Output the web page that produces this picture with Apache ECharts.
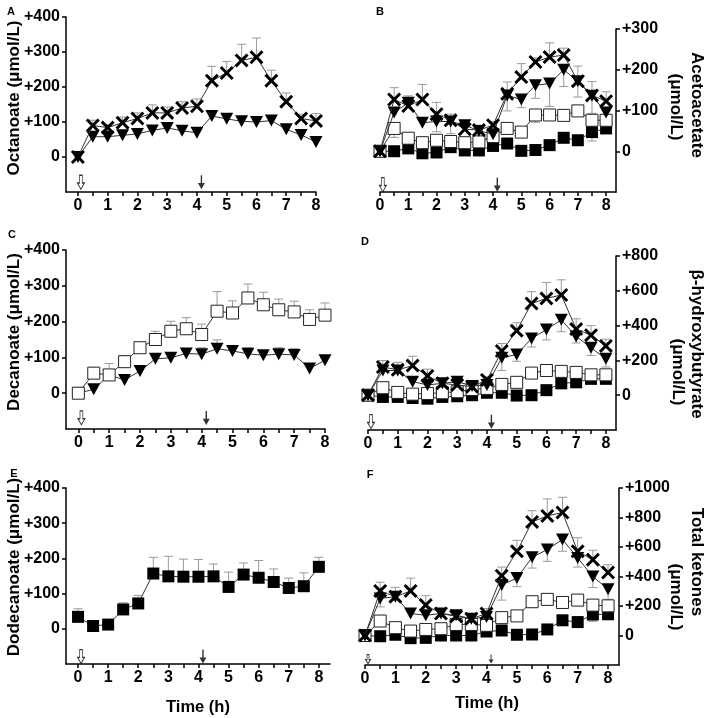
<!DOCTYPE html>
<html>
<head>
<meta charset="utf-8">
<script src="https://cdn.jsdelivr.net/npm/echarts@6/dist/echarts.min.js"></script>
<style>
html,body{margin:0;padding:0;background:#fff;}
#chart{width:708px;height:718px;}
</style>
</head>
<body>
<div id="chart"></div>
<script>
// ---------- data ----------
const times = [0,0.5,1,1.5,2,2.5,3,3.5,4,4.5,5,5.5,6,6.5,7,7.5,8];
const xTickValues = [0,0.5,1,1.5,2,2.5,3,3.5,4,4.5,5,5.5,6,6.5,7,7.5,8];
const xLabelValues = [0,1,2,3,4,5,6,7,8];
const arrowTimes = [0.1, 4.15]; // open arrow (start), filled arrow (second dose)

// A: Octanoate
const octanoate_C8 = [0,90,84,98,110,126,126,140,145,218,240,276,285,218,158,110,103];
const octanoate_C8_errTop = [null,105,93,114,126,149,143,158,166,259,273,322,340,248,183,122,124];
const octanoate_MIX = [0,58,58,62,66,76,83,75,69,117,109,102,100,104,79,63,43];
const octanoate_MIX_errTop = [null,66,null,null,null,84,88,null,null,133,null,null,null,116,null,null,null];

// C: Decanoate
const decanoate_C10 = [0,56,51,88,127,150,173,180,164,229,224,266,247,233,227,206,218];
const decanoate_C10_errTop = [null,67,83,104,141,173,201,211,193,284,258,305,282,263,257,233,252];
const decanoate_MIX = [0,11,51,37,62,96,99,111,109,124,118,110,106,109,107,69,92];
const decanoate_MIX_errTop = [null,null,null,null,null,104,108,122,127,149,133,127,118,127,125,null,100];

// E: Dodecanoate
const dodecanoate_C12 = [34,8,12,55,72,157,149,148,148,149,119,154,145,133,116,121,176];
const dodecanoate_C12_errTop = [57,null,null,74,95,203,206,198,197,184,161,187,194,170,144,159,203];

// B: Acetoacetate
const aceto_C8 = [0,127,111,127,91,76,54,52,64,141,182,219,231,236,172,137,123];
const aceto_C8_errTop = [null,156,136,164,120,91,70,64,73,170,215,229,266,253,209,171,146];
const aceto_MIX = [0,95,119,70,73,73,64,50,42,137,127,162,166,200,172,136,95];
const aceto_MIX_errBot = [null,null,null,null,48,43,null,null,null,99,107,130,110,159,133,93,null];
const aceto_C10 = [0,56,32,21,27,24,21,23,36,56,47,89,89,88,99,76,76];
const aceto_C10_errBot = [null,34,null,null,null,null,null,null,null,null,null,71,null,null,null,null,null];
const aceto_C12 = [0,0,7,-5,-3,10,2,2,13,19,1,3,15,33,27,47,56];
const aceto_C12_errBot = [null,null,null,null,null,null,null,null,null,null,null,null,null,null,null,25,null];

// D: beta-hydroxybutyrate
const bhb_C8 = [0,162,146,170,111,68,59,49,88,254,371,527,556,576,380,345,283];
const bhb_C8_errTop = [null,199,189,224,150,84,78,68,107,297,416,595,648,663,439,400,322];
const bhb_MIX = [0,142,142,78,59,68,78,53,59,215,234,326,377,433,338,273,209];
const bhb_MIX_errBot = [null,null,null,null,null,null,null,null,null,142,195,277,318,365,300,228,162];
const bhb_C10 = [0,43,16,6,10,14,20,33,39,62,74,127,142,137,131,117,117];
const bhb_C12 = [0,-10,-10,-16,-20,-10,-6,0,14,14,-2,0,29,68,74,94,94];

// F: Total ketones
const total_C8 = [0,302,263,302,206,149,130,114,149,405,571,770,811,834,571,514,427];
const total_C8_errTop = [null,361,327,389,270,183,160,130,183,464,645,846,926,937,663,578,480];
const total_MIX = [0,251,263,149,137,149,137,114,126,343,389,530,583,651,526,400,313];
const total_MIX_errBot = [null,194,null,null,null,null,null,null,null,240,331,457,503,571,464,325,245];
const total_C10 = [0,98,53,30,41,46,75,75,69,121,133,229,245,224,240,206,201];
const total_C12 = [0,-5,5,-18,-16,0,0,0,27,34,5,7,41,103,91,142,144];
const total_C12_errBot = [null,null,null,null,null,null,null,null,null,null,null,null,null,69,null,96,null];

// ---------- styling ----------
const FONT = '"Liberation Sans", Arial, Helvetica, sans-serif';
const SYM = {
  C8: {symbol:'path://M0,1.5 L1.5,0 L5,3.5 L8.5,0 L10,1.5 L6.5,5 L10,8.5 L8.5,10 L5,6.5 L1.5,10 L0,8.5 L3.5,5 Z', size:14, color:'#000', border:'#000', bw:0},
  MIX: {symbol:'path://M0,0 L10,0 L5,9 Z', size:[13,12], color:'#000', border:'#000', bw:0},
  C10: {symbol:'rect', size:12, color:'#fff', border:'#222', bw:1},
  C12: {symbol:'rect', size:12, color:'#000', border:'#000', bw:0}
};
const OPEN_ARROW = 'path://M3,0 L7,0 L7,10 L10,10 L5,18 L0,10 L3,10 Z';
const FILL_ARROW = 'path://M4,0 L6,0 L6,10 L10,10 L5,18 L0,10 L4,10 Z';

const grids=[], xAxes=[], yAxes=[], series=[], graphics=[];

function lineSeries(gi, vals, key, z){
  const s = SYM[key];
  series.push({
    type:'line', xAxisIndex:gi, yAxisIndex:gi, silent:true, animation:false,
    data: times.map((t,i)=>[t, vals[i]]),
    symbol:s.symbol, symbolSize:s.size, showAllSymbol:true,
    itemStyle:{color:s.color, borderColor:s.border, borderWidth:s.bw, opacity:1},
    lineStyle:{color:'#333', width:1},
    z:z
  });
}
function errSeries(gi, vals, ends){
  const data=[];
  times.forEach((t,i)=>{ if(ends[i]!==null && ends[i]!==undefined) data.push([t, vals[i], ends[i]]); });
  series.push({
    type:'custom', xAxisIndex:gi, yAxisIndex:gi, silent:true, animation:false, z:1,
    data:data,
    renderItem:function(params, api){
      const p0 = api.coord([api.value(0), api.value(1)]);
      const p1 = api.coord([api.value(0), api.value(2)]);
      return {type:'group', children:[
        {type:'line', shape:{x1:p0[0], y1:p0[1], x2:p1[0], y2:p1[1]}, style:{stroke:'#9a9a9a', lineWidth:1}},
        {type:'line', shape:{x1:p1[0]-4.5, y1:p1[1], x2:p1[0]+4.5, y2:p1[1]}, style:{stroke:'#9a9a9a', lineWidth:1}}
      ]};
    }
  });
}
function arrowSeries(gi, y, size){
  series.push({
    type:'scatter', xAxisIndex:gi, yAxisIndex:gi, silent:true, animation:false, z:5,
    data:[{value:[arrowTimes[0], y], symbol:OPEN_ARROW, itemStyle:{color:'#fff', borderColor:'#000', borderWidth:1}},
          {value:[arrowTimes[1], y], symbol:FILL_ARROW, itemStyle:{color:'#000'}}],
    symbolSize:size
  });
}

function panel(gi, cfg){
  grids.push({left:cfg.left, top:cfg.top, width:cfg.width, height:cfg.height, containLabel:false});
  const axLine = {show:true, onZero:false, lineStyle:{color:'#000', width:1.5}};
  xAxes.push({
    type:'value', gridIndex:gi, min:cfg.xmin, max:cfg.xmax, position:'bottom',
    axisLine:axLine,
    axisTick:{show:true, inside:false, length:4, lineStyle:{color:'#000', width:1.5}, customValues:xTickValues},
    axisLabel:{show:true, customValues:xLabelValues, margin:6, color:'#000', fontSize:16, fontWeight:'bold', fontFamily:FONT},
    splitLine:{show:false}
  });
  yAxes.push({
    type:'value', gridIndex:gi, min:cfg.ymin, max:cfg.ymax, position:cfg.ypos,
    axisLine:axLine,
    axisTick:{show:true, inside:false, length:4, lineStyle:{color:'#000', width:1.5}, customValues:cfg.yticks},
    axisLabel:{show:true, customValues:cfg.yticks, margin:6, color:'#000', fontSize:16, fontWeight:'bold', fontFamily:FONT,
      formatter:function(v){ return v>0 ? '+'+v : String(v); }},
    splitLine:{show:false}
  });
}

function rotText(text, x, y, rot, size){
  graphics.push({type:'text', x:x, y:y, rotation:rot, silent:true,
    style:{text:text, fill:'#000', font:'bold '+size+'px '+FONT, textAlign:'center', textVerticalAlign:'middle'}});
}

// ---- Panel A (grid 0)
panel(0,{left:66, top:17, width:250, height:175, xmin:-0.4, xmax:8, ymin:-100, ymax:400, yticks:[0,100,200,300,400], ypos:'left'});
errSeries(0, octanoate_MIX, octanoate_MIX_errTop);
errSeries(0, octanoate_C8, octanoate_C8_errTop);
lineSeries(0, octanoate_MIX, 'MIX', 3);
lineSeries(0, octanoate_C8, 'C8', 4);
arrowSeries(0, -72, [7,14]);

// ---- Panel B (grid 1)
panel(1,{left:380, top:29, width:236, height:163, xmin:0, xmax:8.35, ymin:-100, ymax:300, yticks:[0,100,200,300], ypos:'right'});
errSeries(1, aceto_C12, aceto_C12_errBot);
errSeries(1, aceto_C10, aceto_C10_errBot);
errSeries(1, aceto_MIX, aceto_MIX_errBot);
errSeries(1, aceto_C8, aceto_C8_errTop);
lineSeries(1, aceto_C12, 'C12', 2);
lineSeries(1, aceto_C10, 'C10', 2);
lineSeries(1, aceto_MIX, 'MIX', 3);
lineSeries(1, aceto_C8, 'C8', 4);
arrowSeries(1, -82, [7,14]);

// ---- Panel C (grid 2)
panel(2,{left:66, top:250, width:259, height:179, xmin:-0.4, xmax:8, ymin:-100, ymax:400, yticks:[0,100,200,300,400], ypos:'left'});
errSeries(2, decanoate_MIX, decanoate_MIX_errTop);
errSeries(2, decanoate_C10, decanoate_C10_errTop);
lineSeries(2, decanoate_MIX, 'MIX', 3);
lineSeries(2, decanoate_C10, 'C10', 4);
arrowSeries(2, -69, [7,14]);

// ---- Panel D (grid 3)
panel(3,{left:368, top:256, width:248, height:174, xmin:0, xmax:8.34, ymin:-200, ymax:800, yticks:[0,200,400,600,800], ypos:'right'});
errSeries(3, bhb_MIX, bhb_MIX_errBot);
errSeries(3, bhb_C8, bhb_C8_errTop);
lineSeries(3, bhb_C12, 'C12', 2);
lineSeries(3, bhb_C10, 'C10', 2);
lineSeries(3, bhb_MIX, 'MIX', 3);
lineSeries(3, bhb_C8, 'C8', 4);
arrowSeries(3, -152, [7,14]);

// ---- Panel E (grid 4)
panel(4,{left:66, top:488, width:264, height:176, xmin:-0.4, xmax:8.37, ymin:-100, ymax:400, yticks:[0,100,200,300,400], ypos:'left'});
errSeries(4, dodecanoate_C12, dodecanoate_C12_errTop);
lineSeries(4, dodecanoate_C12, 'C12', 3);
arrowSeries(4, -79, [7,14]);

// ---- Panel F (grid 5)
panel(5,{left:365, top:488, width:254, height:177, xmin:0, xmax:8.36, ymin:-200, ymax:1000, yticks:[0,200,400,600,800,1000], ypos:'right'});
errSeries(5, total_C12, total_C12_errBot);
errSeries(5, total_MIX, total_MIX_errBot);
errSeries(5, total_C8, total_C8_errTop);
lineSeries(5, total_C12, 'C12', 2);
lineSeries(5, total_C10, 'C10', 2);
lineSeries(5, total_MIX, 'MIX', 3);
lineSeries(5, total_C8, 'C8', 4);
arrowSeries(5, -160, [5,9]);

// ---- Texts
rotText('Octanoate (μmol/L)', 14, 98, Math.PI/2, 17);
rotText('Decanoate (μmol/L)', 14, 332, Math.PI/2, 17);
rotText('Dodecanoate (μmol/L)', 14, 567, Math.PI/2, 17);
rotText('Acetoacetate', 697, 105, -Math.PI/2, 17);
rotText('(μmol/L)', 676, 107, -Math.PI/2, 17);
rotText('β-hydroxybutyrate', 697, 344, -Math.PI/2, 17);
rotText('(μmol/L)', 678, 372, -Math.PI/2, 17);
rotText('Total ketones', 697, 562, -Math.PI/2, 17);
rotText('(μmol/L)', 676, 597, -Math.PI/2, 17);
rotText('Time (h)', 198, 707, 0, 16.5);
rotText('Time (h)', 487, 703, 0, 16.5);
rotText('A', 11, 12, 0, 11);
rotText('B', 380, 12, 0, 11);
rotText('C', 12, 235, 0, 11);
rotText('D', 365, 242, 0, 11);
rotText('E', 14, 474, 0, 11);
rotText('F', 370, 475, 0, 11);

const chart = echarts.init(document.getElementById('chart'), null, {renderer:'canvas'});
chart.setOption({
  animation:false,
  backgroundColor:'#fff',
  grid:grids, xAxis:xAxes, yAxis:yAxes, series:series,
  graphic:graphics
});
</script>
</body>
</html>
